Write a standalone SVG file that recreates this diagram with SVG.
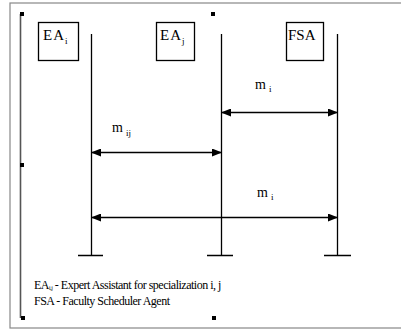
<svg xmlns="http://www.w3.org/2000/svg" width="401" height="331" viewBox="0 0 401 331">
<style>
.box{fill:#fff;stroke:#000;stroke-width:1.3}
.life{stroke:#000;stroke-width:1.3;fill:none}
.msg{stroke:#000;stroke-width:1.3;fill:none;marker-start:url(#ah);marker-end:url(#ah)}
.lbl{font-size:15px}
.sm{font-size:14px}
.sub{font-size:9px}
.h{fill:#000}
</style>
<defs>
<marker id="ah" markerWidth="10" markerHeight="8" refX="9" refY="4" orient="auto-start-reverse" markerUnits="userSpaceOnUse">
<path d="M0,0 L10,4 L0,8 Z" fill="#000"/>
</marker>
</defs>
<rect x="0" y="0" width="401" height="331" fill="#fff"/>
<rect x="10" y="3" width="400" height="325" fill="none" stroke="#888" stroke-width="1.2"/>
<line x1="20.5" y1="14" x2="20.5" y2="318" stroke="#555" stroke-width="1.6"/>
<rect class="h" x="20" y="12" width="4" height="4"/>
<rect class="h" x="20" y="163" width="4" height="4"/>
<rect class="h" x="21" y="316" width="4" height="4"/>
<rect class="h" x="211" y="12" width="4" height="4"/>
<rect class="h" x="212" y="316" width="4" height="4"/>
<g font-family="'DejaVu Serif', 'Liberation Serif', serif" fill="#000">
<g id="EAi">
<rect class="box" x="38.5" y="22.5" width="40" height="38"/>
<text class="lbl" x="43" y="40" font-family="'Liberation Serif', serif" letter-spacing="1">EA<tspan class="sub" dy="4">i</tspan></text>
</g>
<g id="EAj">
<rect class="box" x="156.5" y="22.5" width="38" height="38"/>
<text class="lbl" x="160" y="40" font-family="'Liberation Serif', serif" letter-spacing="1">EA<tspan class="sub" dy="4">j</tspan></text>
</g>
<g id="FSA">
<rect class="box" x="286.5" y="22.5" width="37" height="38"/>
<text class="lbl" x="288" y="40" font-family="'Liberation Serif', serif">FSA</text>
</g>
<g id="connectors">
<path class="life" d="M91.5,34 V255 M78,255.5 H103"/>
<path class="life" d="M221.5,34 V255 M207,255.5 H233"/>
<path class="life" d="M337.5,34 V255 M324,255.5 H351"/>
<line class="msg" x1="222" y1="112.5" x2="337" y2="112.5"/>
<line class="msg" x1="92" y1="152.5" x2="221" y2="152.5"/>
<line class="msg" x1="92" y1="217.5" x2="337" y2="217.5"/>
<text class="sm" x="255" y="89" font-family="'Liberation Serif', serif">m<tspan class="sub" dx="3" dy="3">i</tspan></text>
<text class="sm" x="112" y="132" font-family="'Liberation Serif', serif">m<tspan class="sub" dx="3" dy="4">ij</tspan></text>
<text class="sm" x="257" y="197" font-family="'Liberation Serif', serif">m<tspan class="sub" dx="3" dy="3">i</tspan></text>
</g>
<g id="legend">
<text font-size="12" x="34" y="289" letter-spacing="-0.5" font-family="'Liberation Serif', serif">EA<tspan font-size="6" dy="1">i,j</tspan><tspan dy="-1"> - Expert Assistant for specialization i, j</tspan></text>
<text font-size="12" x="34" y="305" letter-spacing="-0.5" font-family="'Liberation Serif', serif">FSA - Faculty Scheduler Agent</text>
</g>
</g>
</svg>
